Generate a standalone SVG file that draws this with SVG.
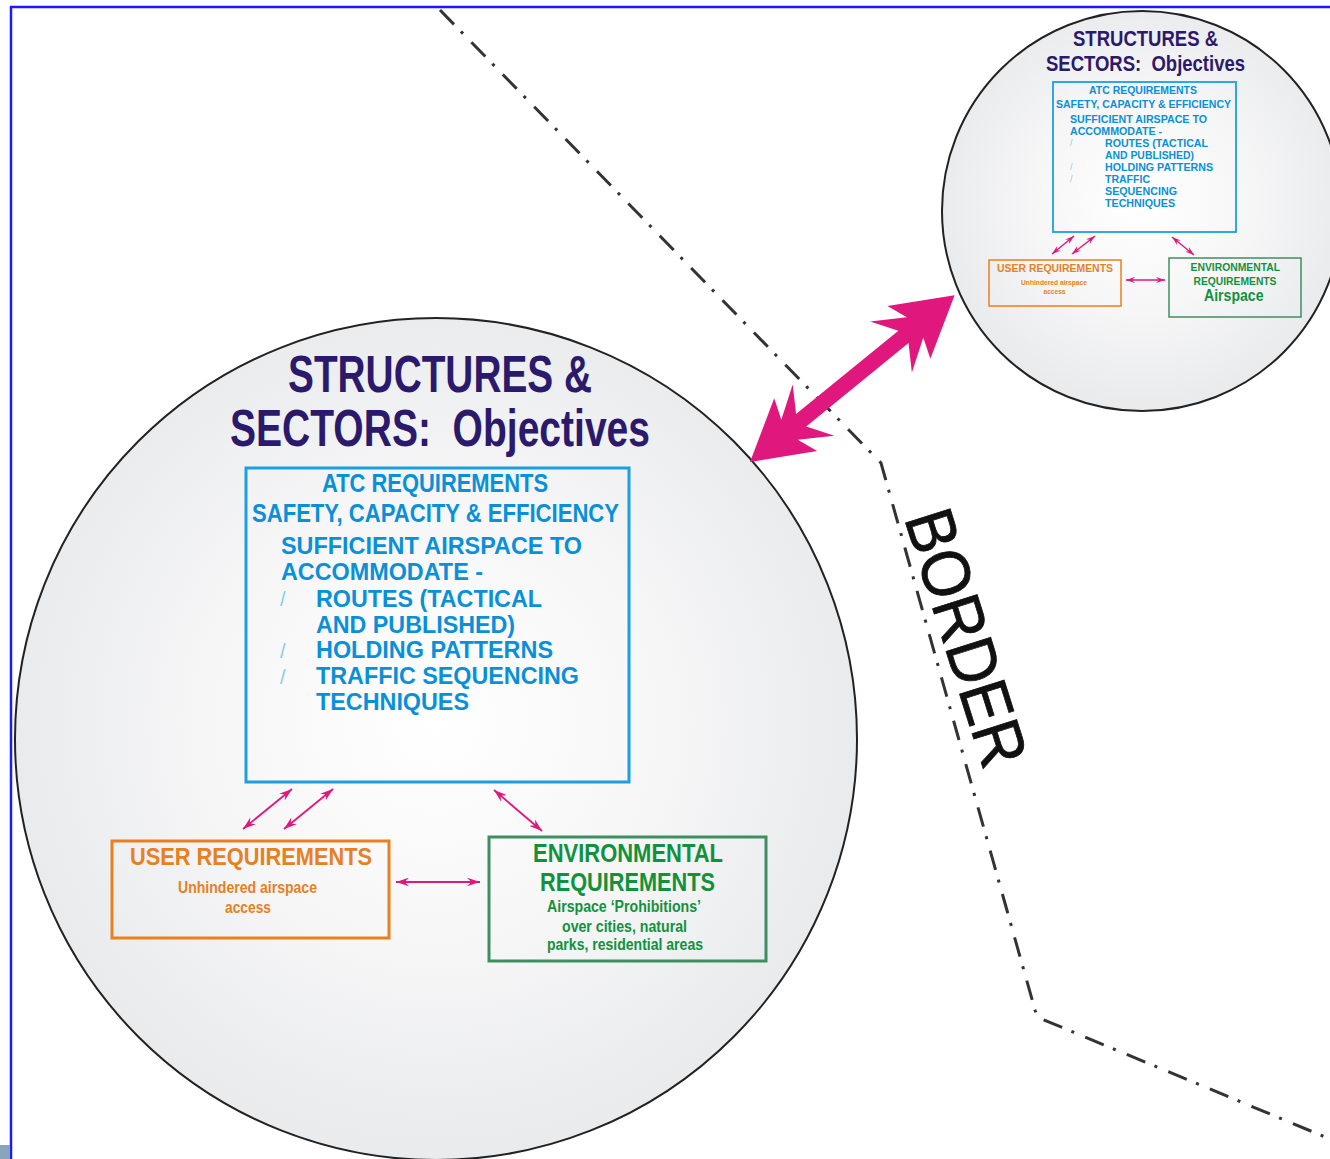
<svg xmlns="http://www.w3.org/2000/svg" width="1330" height="1159" viewBox="0 0 1330 1159">
<style>
.t{font-family:"Liberation Sans",Arial,sans-serif;font-weight:bold}
.ttl{fill:#2b1a6b}
.blu{fill:#0a90d8}
.sl{fill:#8ccbef;font-weight:normal}
.org{fill:#e8801e}
.grn{fill:#12913d}
.circ{fill:url(#cg);stroke:#222;stroke-width:2}
.conn{stroke:#e0177c;stroke-width:1.8;fill:none;marker-start:url(#ah);marker-end:url(#ah)}
.conns{stroke:#e0177c;stroke-width:1.4;fill:none;marker-start:url(#ahs);marker-end:url(#ahs)}
</style>
<defs>
<radialGradient id="cg" cx="50%" cy="48%" r="50%">
<stop offset="0" stop-color="#ffffff"/>
<stop offset="0.55" stop-color="#f6f6f7"/>
<stop offset="1" stop-color="#eaebed"/>
</radialGradient>
<marker id="ah" viewBox="0 0 12 8" refX="12" refY="4" markerWidth="13" markerHeight="9" markerUnits="userSpaceOnUse" orient="auto-start-reverse">
<path d="M0,0 L12,4 L0,8 L4,4 z" fill="#e0177c"/>
</marker>
<marker id="ahs" viewBox="0 0 12 8" refX="12" refY="4" markerWidth="9" markerHeight="7" markerUnits="userSpaceOnUse" orient="auto-start-reverse">
<path d="M0,0 L12,4 L0,8 L4,4 z" fill="#e0177c"/>
</marker>
</defs>
<rect width="1330" height="1159" fill="#ffffff"/>
<path d="M11,1159 L11,7 L1330,7" fill="none" stroke="#1a1aff" stroke-width="2.5"/>
<rect x="0" y="1145" width="10" height="14" fill="#8aa4bb"/>

<g id="border">
<path d="M440,10 L881,463 L1037,1017 L1330,1139" fill="none" stroke="#333" stroke-width="3" stroke-dasharray="20 10 3 12"/>
<text x="0" y="0" transform="translate(904,518) rotate(72.5)" font-family="'Liberation Sans',Arial,sans-serif" font-size="68" fill="#111" stroke="#111" stroke-width="0.8" textLength="266" lengthAdjust="spacingAndGlyphs">BORDER</text>
</g>

<g id="big-circle">
<circle class="circ" cx="436" cy="739" r="421"/>
<text class="t ttl" x="288" y="392" font-size="52" textLength="304" lengthAdjust="spacingAndGlyphs">STRUCTURES &amp;</text>
<text class="t ttl" x="230" y="446" font-size="52" textLength="420" lengthAdjust="spacingAndGlyphs" xml:space="preserve">SECTORS:  Objectives</text>
</g>

<g id="atc">
<rect x="246" y="468" width="383" height="314" fill="none" stroke="#1a9fe0" stroke-width="3"/>
<text class="t blu" x="322" y="492" font-size="25" textLength="226" lengthAdjust="spacingAndGlyphs">ATC REQUIREMENTS</text>
<text class="t blu" x="252" y="522" font-size="25" textLength="367" lengthAdjust="spacingAndGlyphs">SAFETY, CAPACITY &amp; EFFICIENCY</text>
<text class="t blu" x="281" y="554" font-size="23" textLength="301" lengthAdjust="spacingAndGlyphs">SUFFICIENT AIRSPACE TO</text>
<text class="t blu" x="281" y="580" font-size="23" textLength="202" lengthAdjust="spacingAndGlyphs">ACCOMMODATE -</text>
<text class="t sl" x="280" y="606" font-size="20">/</text>
<text class="t blu" x="316" y="607" font-size="23" textLength="226" lengthAdjust="spacingAndGlyphs">ROUTES (TACTICAL</text>
<text class="t blu" x="316" y="633" font-size="23" textLength="199" lengthAdjust="spacingAndGlyphs">AND PUBLISHED)</text>
<text class="t sl" x="280" y="658" font-size="20">/</text>
<text class="t blu" x="316" y="658" font-size="23" textLength="237" lengthAdjust="spacingAndGlyphs">HOLDING PATTERNS</text>
<text class="t sl" x="280" y="684" font-size="20">/</text>
<text class="t blu" x="316" y="684" font-size="23" textLength="263" lengthAdjust="spacingAndGlyphs">TRAFFIC SEQUENCING</text>
<text class="t blu" x="316" y="710" font-size="23" textLength="153" lengthAdjust="spacingAndGlyphs">TECHNIQUES</text>
</g>

<g id="user">
<rect x="112" y="841" width="277" height="97" fill="none" stroke="#e8801e" stroke-width="3"/>
<text class="t org" x="130" y="865" font-size="23" textLength="242" lengthAdjust="spacingAndGlyphs">USER REQUIREMENTS</text>
<text class="t org" x="178" y="893" font-size="16" textLength="139" lengthAdjust="spacingAndGlyphs">Unhindered airspace</text>
<text class="t org" x="225" y="913" font-size="16" textLength="46" lengthAdjust="spacingAndGlyphs">access</text>
</g>

<g id="env">
<rect x="489" y="837" width="277" height="124" fill="none" stroke="#3d8f62" stroke-width="3"/>
<text class="t grn" x="533" y="862" font-size="26" textLength="190" lengthAdjust="spacingAndGlyphs">ENVIRONMENTAL</text>
<text class="t grn" x="540" y="891" font-size="26" textLength="175" lengthAdjust="spacingAndGlyphs">REQUIREMENTS</text>
<text class="t grn" x="547" y="912" font-size="16" textLength="154" lengthAdjust="spacingAndGlyphs">Airspace ‘Prohibitions’</text>
<text class="t grn" x="562" y="932" font-size="16" textLength="125" lengthAdjust="spacingAndGlyphs">over cities, natural</text>
<text class="t grn" x="547" y="950" font-size="16" textLength="156" lengthAdjust="spacingAndGlyphs">parks, residential areas</text>
</g>

<g id="small-circle">
<circle class="circ" cx="1142" cy="211" r="200"/>
<text class="t ttl" x="1073" y="46" font-size="21.5" textLength="145" lengthAdjust="spacingAndGlyphs">STRUCTURES &amp;</text>
<text class="t ttl" x="1046" y="71" font-size="21.5" textLength="199" lengthAdjust="spacingAndGlyphs" xml:space="preserve">SECTORS:  Objectives</text>
</g>

<g id="atc-small">
<rect x="1053" y="82" width="183" height="150" fill="none" stroke="#1a9fe0" stroke-width="1.8"/>
<text class="t blu" x="1089" y="94" font-size="11" textLength="108" lengthAdjust="spacingAndGlyphs">ATC REQUIREMENTS</text>
<text class="t blu" x="1056" y="107.5" font-size="11" textLength="175" lengthAdjust="spacingAndGlyphs">SAFETY, CAPACITY &amp; EFFICIENCY</text>
<text class="t blu" x="1070" y="123" font-size="10" textLength="137" lengthAdjust="spacingAndGlyphs">SUFFICIENT AIRSPACE TO</text>
<text class="t blu" x="1070" y="134.5" font-size="10" textLength="92" lengthAdjust="spacingAndGlyphs">ACCOMMODATE -</text>
<text class="t sl" x="1070" y="146" font-size="9">/</text>
<text class="t blu" x="1105" y="146.5" font-size="10" textLength="103" lengthAdjust="spacingAndGlyphs">ROUTES (TACTICAL</text>
<text class="t blu" x="1105" y="158.5" font-size="10" textLength="89" lengthAdjust="spacingAndGlyphs">AND PUBLISHED)</text>
<text class="t sl" x="1070" y="170" font-size="9">/</text>
<text class="t blu" x="1105" y="170.5" font-size="10" textLength="108" lengthAdjust="spacingAndGlyphs">HOLDING PATTERNS</text>
<text class="t sl" x="1070" y="182" font-size="9">/</text>
<text class="t blu" x="1105" y="182.5" font-size="10" textLength="45" lengthAdjust="spacingAndGlyphs">TRAFFIC</text>
<text class="t blu" x="1105" y="194.5" font-size="10" textLength="72" lengthAdjust="spacingAndGlyphs">SEQUENCING</text>
<text class="t blu" x="1105" y="206.5" font-size="10" textLength="70" lengthAdjust="spacingAndGlyphs">TECHNIQUES</text>
</g>

<g id="user-small">
<rect x="989" y="260" width="132" height="46" fill="none" stroke="#e8801e" stroke-width="1.5"/>
<text class="t org" x="997" y="271.5" font-size="11.5" textLength="116" lengthAdjust="spacingAndGlyphs">USER REQUIREMENTS</text>
<text class="t org" x="1021" y="284.5" font-size="7" textLength="66" lengthAdjust="spacingAndGlyphs">Unhindered airspace</text>
<text class="t org" x="1043.5" y="294" font-size="7" textLength="22" lengthAdjust="spacingAndGlyphs">access</text>
</g>

<g id="env-small">
<rect x="1169" y="258" width="132" height="59" fill="none" stroke="#3d8f62" stroke-width="1.5"/>
<text class="t grn" x="1190.5" y="270.5" font-size="11.5" textLength="89.5" lengthAdjust="spacingAndGlyphs">ENVIRONMENTAL</text>
<text class="t grn" x="1193.5" y="285" font-size="11.5" textLength="83" lengthAdjust="spacingAndGlyphs">REQUIREMENTS</text>
<text class="t grn" x="1204" y="301" font-size="16" textLength="59.5" lengthAdjust="spacingAndGlyphs">Airspace</text>
</g>

<g id="connectors">
<line class="conn" x1="243" y1="829" x2="292" y2="789"/>
<line class="conn" x1="284" y1="829" x2="333" y2="789"/>
<line class="conn" x1="494" y1="790" x2="542" y2="831"/>
<line class="conn" x1="396" y1="882" x2="480" y2="882"/>
<line class="conns" x1="1052" y1="254" x2="1074" y2="236"/>
<line class="conns" x1="1072" y1="254" x2="1095" y2="236"/>
<line class="conns" x1="1172" y1="237" x2="1194" y2="255"/>
<line class="conns" x1="1126" y1="280" x2="1165" y2="280"/>
<polygon transform="translate(750,462) rotate(-39.2)" fill="#e0177c" points="0,0 59,-34 51,-13 82,-33 66,-8 198,-8 182,-33 213,-13 205,-34 264,0 205,34 213,13 182,33 198,8 66,8 82,33 51,13 59,34"/>
</g>
</svg>
